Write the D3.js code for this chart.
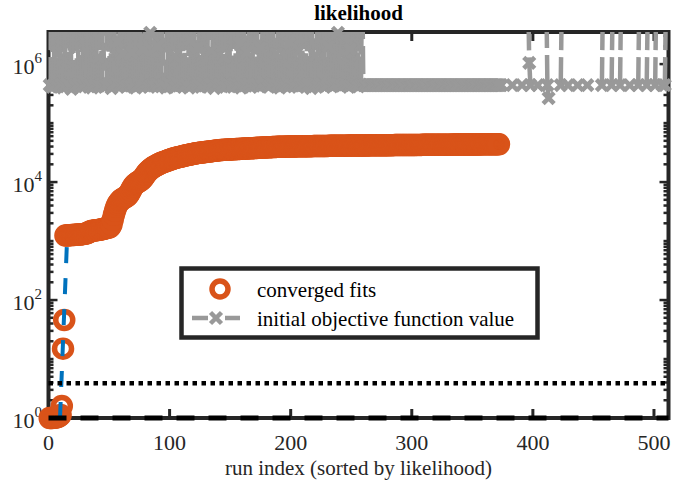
<!DOCTYPE html>
<meta charset="utf-8">
<style>
body { margin: 0; background: #fff; }
svg text { font-family: "Liberation Serif", "Times New Roman", serif; fill: #262626; }
</style>
<body>
<script src="https://cdn.jsdelivr.net/npm/d3@7/dist/d3.min.js"></script>
<script>

// converged fits, sorted, one value per run index (1..372)
var fitValues = [
  1.00, 1.00, 1.00, 1.01, 1.01, 1.02, 1.03, 1.05, 1.08, 1.12,
  1.6, 15, 46,
  1240, 1245, 1250, 1255, 1260, 1262, 1265, 1270, 1275, 1280,
  1285, 1290, 1295, 1300, 1310, 1320, 1330, 1340, 1360, 1400,
  1440, 1470, 1490, 1500, 1510, 1520, 1530, 1540, 1550, 1560,
  1580, 1600, 1620, 1640, 1660, 1680, 1700, 1750, 1900, 2300,
  2800, 3300, 3800, 4200, 4500, 4800, 5000, 5150, 5300, 5450,
  5600, 5800, 6100, 6600, 7200, 7900, 8500, 9000, 9400, 9700,
  10000, 10300, 10600, 11000, 11600, 12400, 13300, 14200, 15000, 15700,
  16400, 17000, 17600, 18100, 18600, 19100, 19600, 20100, 20600, 21000,
  21400, 21800, 22200, 22600, 23000, 23400, 23800, 24200, 24600, 25000,
  25400, 25700, 26000, 26300, 26600, 26900, 27200, 27500, 27800, 28100,
  28400, 28700, 29000, 29300, 29600, 29900, 30200, 30500, 30800, 31000,
  31200, 31400, 31600, 31800, 32000, 32200, 32400, 32600, 32800, 33000,
  33200, 33400, 33600, 33800, 34000, 34200, 34400, 34600, 34800, 35000,
  35100, 35200, 35300, 35400, 35500, 35600, 35700, 35800, 35900, 36000,
  36100, 36200, 36300, 36400, 36500, 36600, 36700, 36800, 36900, 37000,
  37100, 37200, 37300, 37400, 37500, 37600, 37700, 37800, 37900, 38000,
  38100, 38200, 38300, 38400, 38500, 38600, 38700, 38800, 38900, 39000,
  39100, 39200, 39300, 39400, 39450, 39500, 39550, 39600, 39650, 39700,
  39750, 39800, 39850, 39900, 39950, 40000, 40050, 40100, 40150, 40200,
  40230, 40260, 40300, 40320, 40350, 40390, 40410, 40440, 40480, 40500,
  40530, 40560, 40600, 40620, 40650, 40690, 40710, 40740, 40780, 40800,
  40830, 40860, 40900, 40920, 40950, 40990, 41010, 41040, 41080, 41100,
  41120, 41150, 41180, 41200, 41230, 41260, 41280, 41300, 41330, 41360,
  41380, 41400, 41430, 41460, 41480, 41500, 41530, 41560, 41580, 41600,
  41620, 41640, 41670, 41690, 41710, 41730, 41760, 41780, 41800, 41820,
  41840, 41860, 41890, 41910, 41930, 41950, 41980, 42000, 42020, 42040,
  42060, 42080, 42100, 42120, 42140, 42160, 42180, 42200, 42220, 42240,
  42260, 42280, 42300, 42320, 42340, 42360, 42380, 42400, 42420, 42440,
  42460, 42480, 42500, 42510, 42530, 42550, 42560, 42580, 42600, 42610,
  42630, 42650, 42660, 42680, 42700, 42710, 42730, 42750, 42760, 42780,
  42800, 42810, 42830, 42850, 42860, 42880, 42900, 42910, 42930, 42950,
  42960, 42980, 43000, 43010, 43030, 43050, 43060, 43080, 43100, 43110,
  43130, 43150, 43160, 43180, 43200, 43210, 43230, 43250, 43260, 43280,
  43300, 43310, 43330, 43350, 43360, 43380, 43400, 43410, 43430, 43450,
  43460, 43480, 43500, 43510, 43530, 43550, 43560, 43580, 43600, 43610,
  43630, 43650, 43660, 43680, 43700, 43710, 43730, 43750, 43760
];

// initial objective function value per run index (1..511), null = not drawn
var initValues = [
  // 1-261, start values jump between ~4e5 and far above the top
  4.4e5, 2e7, 4.1e5, 8e6, 4.6e5, 4.4e5, 1.5e7, 4.2e5, 3e7, 4.5e5,
  6e6, 4.0e5, 1.2e7, 4.4e5, 4.7e5, 2.5e7, 4.3e5, 9e6, 3.8e5, 1.8e7,
  4.4e5, 4.5e5, 4.2e5, 7e6, 4.6e5, 2.2e7, 4.1e5, 1.1e7, 4.4e5, 5e7,
  4.9e5, 1.4e7, 4.3e5, 4.4e5, 8e6, 4.0e5, 3.5e7, 4.5e5, 1.6e7, 4.2e5,
  1.3e6, 4.4e5, 2.6e7, 4.7e5, 9e6, 4.1e5, 4.4e5, 4.3e5, 1.9e7, 4.6e5,
  6e6, 3.9e5, 3e7, 4.4e5, 1.2e7, 4.8e5, 2.4e6, 4.2e5, 1.7e7, 4.4e5,
  1.5e6, 4.5e5, 4e7, 4.1e5, 1e7, 4.4e5, 2.1e7, 4.3e5, 1.6e6, 4.6e5,
  7e6, 4.0e5, 2.8e7, 4.4e5, 4.5e5, 1.3e7, 4.2e5, 1.8e6, 4.4e5, 2.3e7,
  4.7e5, 8e6, 4.1e5, 3.4e6, 4.4e5, 1.7e6, 4.3e5, 1.5e7, 4.6e5, 2.0e6,
  4.4e5, 3.2e7, 4.2e5, 1.1e7, 4.5e5, 4.4e5, 4.0e5, 2.6e7, 4.8e5, 9e6,
  4.3e5, 1.9e7, 4.4e5, 1.4e6, 4.1e5, 3.6e7, 4.6e5, 1.2e7, 4.4e5, 6e6,
  4.2e5, 2.4e7, 4.5e5, 4.4e5, 1.6e7, 4.0e5, 2.6e6, 4.4e5, 4.5e7, 4.7e5,
  1.0e7, 4.3e5, 1.9e6, 4.4e5, 2.2e7, 4.1e5, 7e6, 4.6e5, 1.4e7, 4.4e5,
  4.2e5, 3.0e7, 4.5e5, 1.7e6, 4.4e5, 1.1e7, 3.9e5, 2.7e7, 4.4e5, 8e6,
  4.6e5, 4.3e5, 1.8e7, 4.4e5, 1.3e6, 4.1e5, 3.8e7, 4.5e5, 1.0e7, 4.2e5,
  2.1e7, 4.4e5, 4.7e5, 6e6, 4.3e5, 1.5e7, 4.4e5, 2.2e6, 4.0e5, 2.9e7,
  4.5e5, 1.2e7, 4.4e5, 1.6e6, 4.6e5, 2.4e7, 4.1e5, 9e6, 4.4e5, 4.3e5,
  1.7e7, 4.5e5, 4e7, 4.2e5, 1.9e6, 4.4e5, 1.3e7, 4.8e5, 2.5e7, 4.4e5,
  7e6, 4.1e5, 4.4e5, 3.3e7, 4.6e5, 1.1e7, 4.3e5, 1.5e6, 4.4e5, 2.0e7,
  4.0e5, 8e6, 4.5e5, 2.8e7, 4.4e5, 4.2e5, 1.4e7, 4.7e5, 2.3e6, 4.4e5,
  3.5e7, 4.3e5, 1.0e7, 4.4e5, 1.8e7, 4.1e5, 1.7e6, 4.5e5, 2.6e7, 4.4e5,
  4.6e5, 6e6, 4.2e5, 2.1e7, 4.4e5, 1.2e7, 3.9e5, 4.2e7, 4.5e5, 1.4e6,
  4.4e5, 1.6e7, 4.3e5, 9e6, 4.7e5, 4.4e5, 3.0e7, 4.1e5, 1.9e7, 4.4e5,
  2.0e6, 4.5e5, 1.1e7, 4.2e5, 2.7e7, 4.4e5, 7e6, 4.6e5, 3.4e6, 4.4e5,
  1.5e7, 4.3e5, 3.6e7, 4.5e5, 1.3e7, 4.4e5, 2.2e7, 4.1e5, 1.8e6, 4.4e5,
  2.9e7, 4.6e5, 1.0e7, 4.4e5, 2.4e7, 4.2e5, 1.7e7, 4.5e5, 3.1e7, 4.4e5,
  4.4e5,
  // 262-374, flat
  4.4e5, 4.4e5, 4.4e5, 4.4e5, 4.4e5, 4.4e5, 4.4e5, 4.4e5, 4.4e5, 4.4e5,
  4.4e5, 4.4e5, 4.4e5, 4.4e5, 4.4e5, 4.4e5, 4.4e5, 4.4e5, 4.4e5, 4.4e5,
  4.4e5, 4.4e5, 4.4e5, 4.4e5, 4.4e5, 4.4e5, 4.4e5, 4.4e5, 4.4e5, 4.4e5,
  4.4e5, 4.4e5, 4.4e5, 4.4e5, 4.4e5, 4.4e5, 4.4e5, 4.4e5, 4.4e5, 4.4e5,
  4.4e5, 4.4e5, 4.4e5, 4.4e5, 4.4e5, 4.4e5, 4.4e5, 4.4e5, 4.4e5, 4.4e5,
  4.4e5, 4.4e5, 4.4e5, 4.4e5, 4.4e5, 4.4e5, 4.4e5, 4.4e5, 4.4e5, 4.4e5,
  4.4e5, 4.4e5, 4.4e5, 4.4e5, 4.4e5, 4.4e5, 4.4e5, 4.4e5, 4.4e5, 4.4e5,
  4.4e5, 4.4e5, 4.4e5, 4.4e5, 4.4e5, 4.4e5, 4.4e5, 4.4e5, 4.4e5, 4.4e5,
  4.4e5, 4.4e5, 4.4e5, 4.4e5, 4.4e5, 4.4e5, 4.4e5, 4.4e5, 4.4e5, 4.4e5,
  4.4e5, 4.4e5, 4.4e5, 4.4e5, 4.4e5, 4.4e5, 4.4e5, 4.4e5, 4.4e5, 4.4e5,
  4.4e5, 4.4e5, 4.4e5, 4.4e5, 4.4e5, 4.4e5, 4.4e5, 4.4e5, 4.4e5, 4.4e5,
  4.4e5, 4.4e5, 4.4e5,
  // 375-511, sparse
  null, null, null, null, null, null, null, null, 4.4e5, null,
  null, null, null, null, null, null, 4.4e5, null, null, null,
  null, 2e7, 1.05e6, 4.4e5, null, null, null, null, null, 4.4e5,
  null, null, null, null, null, null, 2.2e7, 4.4e5, 2.65e5, null,
  null, null, null, null, null, null, null, null, 4.4e5, 1.8e7,
  null, null, null, null, 4.4e5, null, null, null, null, null,
  null, null, 4.4e5, null, null, null, null, null, null, null,
  4.4e5, null, null, null, null, null, null, null, null, null,
  null, null, 4.4e5, 2.5e7, null, null, null, null, null, null,
  4.4e5, 1.6e7, null, null, null, null, null, 4.4e5, 3e7, null,
  null, null, null, null, null, 4.4e5, null, null, null, null,
  null, null, 4.4e5, 2e7, null, null, null, null, null, 4.4e5,
  1.4e7, null, null, null, null, null, 4.4e5, 2.6e7, null, null,
  null, null, 4.4e5, null, 4.4e5, 1.9e7, null
];

// dashed blue guide and the two black reference levels
var guideX = [9.5, 15.5];
var guideY = [1, 1300];
var dottedLevel = 3.9;
var dashedLevel = 1;

var xTicks = [0, 100, 200, 300, 400, 500];
var yLabelExp = [0, 2, 4, 6];

var W = 673, H = 485;
var L = 48.5, R = 668.5, T = 32, B = 418;

var x = d3.scaleLinear().domain([0, 512]).range([L, R]);
var y = d3.scaleLog().domain([1, 3.5e6]).range([B, T]);

var axisColor = "#262626";
var orange = "#D95319", blue = "#0072BD", gray = "#999999";

var svg = d3.select("body").append("svg")
    .attr("width", W)
    .attr("height", H);

svg.append("clipPath").attr("id", "plotclip")
  .append("rect")
    .attr("x", L).attr("y", T)
    .attr("width", R - L).attr("height", B - T);

// ---- axes box and ticks
var ax = svg.append("g");
ax.append("rect")
    .attr("x", L).attr("y", T)
    .attr("width", R - L).attr("height", B - T)
    .attr("fill", "none")
    .attr("stroke", axisColor)
    .attr("stroke-width", 4);

xTicks.forEach(function(t) {
  ax.append("line").attr("x1", x(t)).attr("x2", x(t)).attr("y1", B).attr("y2", B - 9)
    .attr("stroke", axisColor).attr("stroke-width", 3);
  ax.append("line").attr("x1", x(t)).attr("x2", x(t)).attr("y1", T).attr("y2", T + 9)
    .attr("stroke", axisColor).attr("stroke-width", 3);
  ax.append("text")
    .attr("x", x(t)).attr("y", 450)
    .attr("text-anchor", "middle")
    .style("font-size", "22px")
    .text(t);
});

// log ticks: major at labelled decades, minor elsewhere
for (var k = 0; k <= 6; k++) {
  for (var m = 1; m <= 9; m++) {
    var v = m * Math.pow(10, k);
    if (v > 3.5e6) continue;
    var major = (m === 1 && k % 2 === 0);
    var len = major ? 9 : 5;
    ax.append("line").attr("x1", L).attr("x2", L + len).attr("y1", y(v)).attr("y2", y(v))
      .attr("stroke", axisColor).attr("stroke-width", 2.5);
    ax.append("line").attr("x1", R).attr("x2", R - len).attr("y1", y(v)).attr("y2", y(v))
      .attr("stroke", axisColor).attr("stroke-width", 2.5);
  }
}

yLabelExp.forEach(function(e) {
  var t = ax.append("text")
    .attr("x", 42).attr("y", y(Math.pow(10, e)) + 10)
    .attr("text-anchor", "end")
    .style("font-size", "22px");
  t.append("tspan").text("10");
  t.append("tspan").attr("dy", -11).style("font-size", "15px").text(e);
});

// ---- data
var plot = svg.append("g");

// converged fits
plot.append("g").selectAll("circle")
    .data(fitValues)
  .enter().append("circle")
    .attr("cx", function(d, i) { return x(i + 1); })
    .attr("cy", function(d) { return y(d); })
    .attr("r", 8.5)
    .attr("fill", "none")
    .attr("stroke", orange)
    .attr("stroke-width", 5.5);

// blue dashed guide
plot.append("line")
    .attr("clip-path", "url(#plotclip)")
    .attr("x1", x(guideX[0])).attr("y1", y(guideY[0]))
    .attr("x2", x(guideX[1])).attr("y2", y(guideY[1]))
    .attr("stroke", blue)
    .attr("stroke-width", 4)
    .attr("stroke-dasharray", "16,15");

// initial objective values: dashed line, each segment restarts the dash
var segs = [];
for (var i = 0; i < initValues.length - 1; i++) {
  if (initValues[i] != null && initValues[i + 1] != null)
    segs.push({ a: i + 1, va: initValues[i], b: i + 2, vb: initValues[i + 1] });
}
plot.append("g")
    .attr("clip-path", "url(#plotclip)")
  .selectAll("line")
    .data(segs)
  .enter().append("line")
    .attr("x1", function(d) { return x(d.a); })
    .attr("y1", function(d) { return y(d.va); })
    .attr("x2", function(d) { return x(d.b); })
    .attr("y2", function(d) { return y(d.vb); })
    .attr("stroke", gray)
    .attr("stroke-width", 4.5)
    .attr("stroke-dasharray", "28,7");

var crossPath = "M-5.5,-5.5L5.5,5.5M-5.5,5.5L5.5,-5.5";
var pts = [];
initValues.forEach(function(v, i) {
  if (v != null && v <= 3.5e6) pts.push({ i: i + 1, v: v });
});
plot.append("g").selectAll("path")
    .data(pts)
  .enter().append("path")
    .attr("d", crossPath)
    .attr("transform", function(d) { return "translate(" + x(d.i) + "," + y(d.v) + ")"; })
    .attr("fill", "none")
    .attr("stroke", gray)
    .attr("stroke-width", 4.5);

// reference levels
plot.append("line")
    .attr("x1", x(0)).attr("x2", R)
    .attr("y1", y(dottedLevel)).attr("y2", y(dottedLevel))
    .attr("stroke", "#000")
    .attr("stroke-width", 4.5)
    .attr("stroke-dasharray", "4.5,4.5");
plot.append("line")
    .attr("x1", x(0)).attr("x2", R)
    .attr("y1", y(dashedLevel)).attr("y2", y(dashedLevel))
    .attr("stroke", "#000")
    .attr("stroke-width", 5)
    .attr("stroke-dasharray", "18,14");

// ---- title, label
svg.append("text")
    .attr("x", (L + R) / 2).attr("y", 20)
    .attr("text-anchor", "middle")
    .style("font-size", "21px")
    .style("font-weight", "bold")
    .style("fill", "#000")
    .text("likelihood");

svg.append("text")
    .attr("x", (L + R) / 2).attr("y", 475)
    .attr("text-anchor", "middle")
    .style("font-size", "21px")
    .text("run index (sorted by likelihood)");

// ---- legend
var lg = svg.append("g");
lg.append("rect")
    .attr("x", 181.5).attr("y", 268.5)
    .attr("width", 356).attr("height", 69)
    .attr("fill", "#fff")
    .attr("stroke", axisColor)
    .attr("stroke-width", 4.5);
lg.append("circle")
    .attr("cx", 220).attr("cy", 289)
    .attr("r", 8)
    .attr("fill", "none")
    .attr("stroke", orange)
    .attr("stroke-width", 5.5);
lg.append("line")
    .attr("x1", 192).attr("x2", 240)
    .attr("y1", 318).attr("y2", 318)
    .attr("stroke", gray)
    .attr("stroke-width", 4.5)
    .attr("stroke-dasharray", "16,17");
lg.append("path")
    .attr("d", crossPath)
    .attr("transform", "translate(216,318)")
    .attr("fill", "none")
    .attr("stroke", gray)
    .attr("stroke-width", 4.5);
lg.append("text")
    .attr("x", 257).attr("y", 297)
    .style("font-size", "21px")
    .style("fill", "#000")
    .text("converged fits");
lg.append("text")
    .attr("x", 257).attr("y", 326)
    .style("font-size", "21px")
    .style("fill", "#000")
    .text("initial objective function value");

</script>
</body>
